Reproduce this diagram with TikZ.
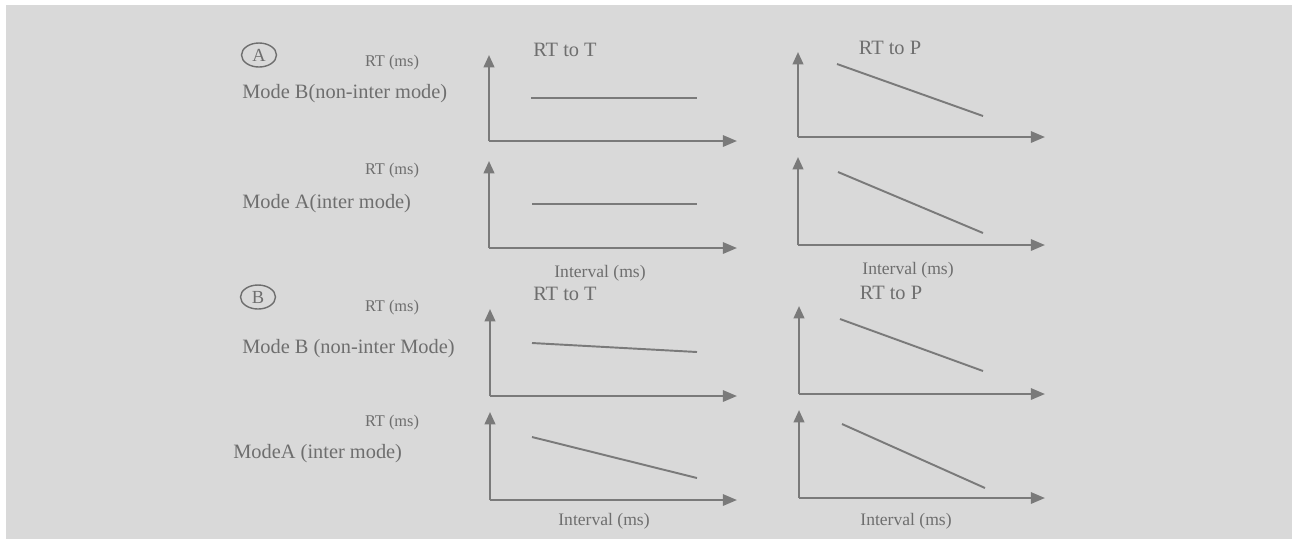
\documentclass[tikz,border=0pt]{standalone}
\usepackage{fontspec}
\setmainfont{Liberation Serif}
\usetikzlibrary{arrows.meta,shapes.geometric}
\definecolor{bg}{HTML}{D9D9D9}
\definecolor{ink}{HTML}{6E6E6E}
\definecolor{axc}{HTML}{7A7A7A}
\newlength{\pxu}
\setlength{\pxu}{0.02cm}
\tikzset{
  big/.style={text=ink, font=\fontsize{11.6}{14}\selectfont, inner sep=0pt},
  rtlab/.style={text=ink, font=\fontsize{9.3}{11}\selectfont, inner sep=0pt},
  ivlab/.style={text=ink, font=\fontsize{10}{12}\selectfont, inner sep=0pt},
  yax/.style={draw=axc, line width=1.25pt, -{Triangle[length=7pt,width=6pt]}},
  xax/.style={draw=axc, line width=1.25pt, -{Triangle[length=8pt,width=6.4pt]}},
  dline/.style={draw=axc, line width=1.1pt},
  tag/.style={draw=ink, line width=0.8pt, ellipse, minimum width=35\pxu, minimum height=24\pxu, inner sep=0pt, text=ink, font=\fontsize{10.5}{12}\selectfont},
}
% plot macro: name, origin x, origin y, ytip y, xtip x, line x1 y1 x2 y2
\newcommand{\myplot}[9]{%
  \coordinate (#1o) at (#2,#3);
  \coordinate (#1y) at (#2,#4);
  \coordinate (#1x) at (#5,#3);
  \coordinate (#1a) at (#6,#7);
  \coordinate (#1b) at (#8,#9);
  \draw[yax] (#1o) -- (#1y);
  \draw[xax] (#1o) -- (#1x);
  \draw[dline] (#1a) -- (#1b);
}
\begin{document}
\begin{tikzpicture}[x=0.02cm,y=-0.02cm]
\useasboundingbox (0,0) rectangle (1297,539);
\fill[white] (0,0) rectangle (1297,539);
\fill[bg] (6,5) rectangle (1292,539);

% Panel A
\node[tag] (tA) at (259,55) {A};
\node[rtlab] (rA1) at (392,63) {RT (ms)};
\node[big, anchor=west] (mA1) at (242,94) {Mode B(non-inter mode)};
\node[big] (tTA) at (565,50) {RT to T};
\node[big] (tPA) at (890,48) {RT to P};
\node[rtlab] (rA2) at (392,171) {RT (ms)};
\node[big, anchor=west] (mA2) at (242,204) {Mode A(inter mode)};
\node[ivlab] (iA1) at (600,273) {Interval (ms)};
\node[ivlab] (iA2) at (908,270) {Interval (ms)};

\myplot{p1}{489}{141}{55}{737}{531}{98}{697}{98}
\myplot{p2}{798}{137}{52}{1045}{837}{64}{983}{116}
\myplot{p3}{489}{248}{161}{737}{532}{204}{697}{204}
\myplot{p4}{798}{245}{157}{1045}{838}{172}{983}{233}

% Panel B
\node[tag] (tB) at (258,297) {B};
\node[rtlab] (rB1) at (392,308) {RT (ms)};
\node[big, anchor=west] (mB1) at (242,349) {Mode B (non-inter Mode)};
\node[big] (tTB) at (565,294) {RT to T};
\node[big] (tPB) at (891,293) {RT to P};
\node[rtlab] (rB2) at (392,423) {RT (ms)};
\node[big, anchor=west] (mB2) at (233,454) {ModeA (inter mode)};
\node[ivlab] (iB1) at (604,521) {Interval (ms)};
\node[ivlab] (iB2) at (906,521) {Interval (ms)};

\myplot{p5}{490}{396}{309}{737}{532}{343}{697}{352}
\myplot{p6}{799}{394}{306}{1045}{840}{319}{983}{371}
\myplot{p7}{490}{500}{412}{737}{532}{437}{697}{478}
\myplot{p8}{799}{498}{410}{1045}{842}{424}{985}{488}
\end{tikzpicture}
\end{document}
